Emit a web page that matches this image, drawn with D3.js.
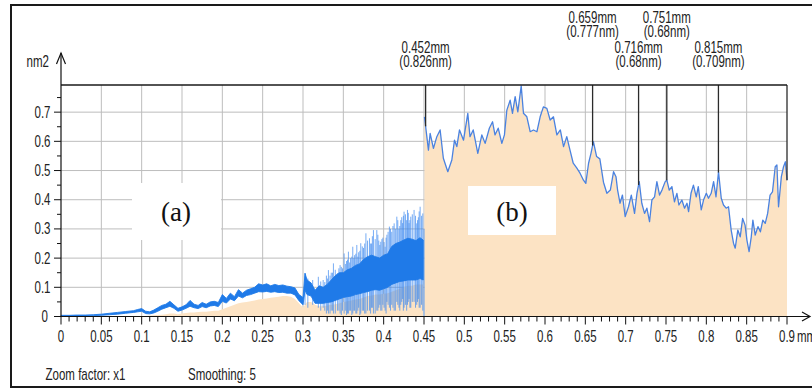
<!DOCTYPE html>
<html><head><meta charset="utf-8">
<script src="https://cdn.jsdelivr.net/npm/d3@7"></script>
<style>html,body{margin:0;padding:0;background:#fff;} svg{display:block}</style>
</head><body><svg id="chart" width="812" height="389"></svg>
<script>
// ---- Profile data (position in mm, power in nm2) ----
// Segment (a): noisy band, upper / lower edge of the trace and the filled level
const aMm   = [0.000,0.010,0.020,0.030,0.040,0.050,0.060,0.070,0.080,0.090,0.095,0.100,0.105,0.110,0.115,0.120,0.125,0.130,0.135,0.140,0.145,0.150,0.155,0.160,0.165,0.170,0.175,0.180,0.185,0.190,0.195,0.200,0.205,0.210,0.215,0.220,0.225,0.230,0.235,0.240,0.245,0.250,0.255,0.260,0.265,0.270,0.275,0.280,0.285,0.290,0.295,0.300,0.3025,0.305,0.310,0.315,0.320,0.325,0.330,0.335,0.340,0.345,0.350,0.355,0.360,0.365,0.370,0.375,0.380,0.385,0.390,0.395,0.400,0.405,0.410,0.415,0.420,0.425,0.430,0.435,0.440,0.445,0.449];
const aHigh = [0.004,0.004,0.005,0.005,0.006,0.008,0.011,0.014,0.017,0.020,0.024,0.027,0.018,0.016,0.022,0.030,0.038,0.042,0.052,0.040,0.028,0.033,0.040,0.055,0.042,0.038,0.048,0.042,0.050,0.052,0.048,0.075,0.062,0.080,0.068,0.092,0.080,0.090,0.095,0.100,0.112,0.108,0.112,0.105,0.110,0.106,0.108,0.104,0.102,0.098,0.075,0.065,0.148,0.125,0.115,0.090,0.105,0.100,0.110,0.125,0.140,0.150,0.150,0.160,0.165,0.175,0.180,0.195,0.205,0.210,0.205,0.200,0.210,0.215,0.240,0.250,0.255,0.262,0.268,0.265,0.260,0.270,0.262];
const aLow  = [0.001,0.001,0.002,0.002,0.003,0.004,0.006,0.008,0.011,0.014,0.016,0.018,0.010,0.009,0.012,0.018,0.025,0.030,0.035,0.028,0.018,0.022,0.028,0.035,0.030,0.027,0.034,0.030,0.036,0.038,0.034,0.052,0.046,0.060,0.054,0.070,0.064,0.072,0.075,0.080,0.085,0.084,0.086,0.083,0.085,0.082,0.083,0.080,0.080,0.074,0.054,0.040,0.090,0.075,0.070,0.045,0.045,0.045,0.048,0.050,0.055,0.060,0.065,0.068,0.070,0.075,0.078,0.082,0.085,0.090,0.092,0.090,0.095,0.100,0.110,0.115,0.120,0.122,0.125,0.125,0.125,0.130,0.125];
const aFill = [0,0,0,0,0,0,0,0,0,0,0,0.002,0.002,0.003,0.004,0.005,0.006,0.008,0.010,0.010,0.008,0.010,0.012,0.014,0.014,0.015,0.016,0.016,0.018,0.020,0.020,0.025,0.030,0.035,0.040,0.045,0.048,0.050,0.052,0.055,0.058,0.060,0.062,0.064,0.066,0.068,0.070,0.070,0.068,0.060,0.045,0.030,0.040,0.050,0.050,0.040,0.035,0.035,0.038,0.040,0.042,0.045,0.050,0.052,0.055,0.058,0.060,0.065,0.070,0.072,0.075,0.075,0.078,0.080,0.085,0.090,0.095,0.100,0.105,0.105,0.110,0.110,0.110];

// Individual spikes of the noisy part of segment (a)
const spikeMm   = [0.3025,0.3060,0.3120,0.3190,0.3220,0.3250,0.3270,0.3290,0.3305,0.3315,0.3335,0.3350,0.3365,0.3377,0.3400,0.3427,0.3445,0.3460,0.3475,0.3490,0.3510,0.3525,0.3540,0.3552,0.3563,0.3578,0.3590,0.3605,0.3617,0.3630,0.3640,0.3655,0.3667,0.3680,0.3690,0.3705,0.3716,0.3735,0.3750,0.3765,0.3780,0.3800,0.3824,0.3838,0.3850,0.3860,0.3873,0.3895,0.3915,0.3928,0.3940,0.3952,0.3964,0.3978,0.3990,0.4005,0.4018,0.4030,0.4040,0.4055,0.4071,0.4085,0.4100,0.4115,0.4130,0.4145,0.4163,0.4175,0.4190,0.4200,0.4212,0.4224,0.4235,0.4244,0.4253,0.4270,0.4285,0.4295,0.4305,0.4315,0.4325,0.4336,0.4355,0.4377,0.4395,0.4410,0.4420,0.4430,0.4440,0.4452,0.4470,0.4485,0.4500];
const spikeLow  = [0.04,0.03,0.04,0.03,0.02,0.03,0.02,0.01,0.02,0.01,0.01,0.02,0.02,0.01,0.01,0.02,0.02,0.01,0.005,0.02,0.01,0.02,0.005,0.01,0.01,0.02,0.02,0.005,0.01,0.02,0.02,0.01,0.01,0.02,0.03,0.005,0.01,0.02,0.02,0.01,0.01,0.02,0.02,0.01,0.03,0.03,0.01,0.01,0.02,0.02,0.03,0.04,0.02,0.02,0.04,0.03,0.02,0.01,0.05,0.04,0.03,0.02,0.04,0.03,0.02,0.02,0.05,0.04,0.03,0.02,0.04,0.05,0.06,0.02,0.03,0.04,0.02,0.04,0.05,0.06,0.03,0.03,0.05,0.05,0.03,0.04,0.05,0.06,0.03,0.03,0.04,0.02,0.00];
const spikeHigh = [0.148,0.130,0.125,0.136,0.120,0.125,0.118,0.140,0.130,0.159,0.140,0.150,0.150,0.182,0.160,0.148,0.165,0.176,0.170,0.165,0.216,0.180,0.190,0.195,0.222,0.185,0.200,0.205,0.239,0.200,0.210,0.215,0.245,0.205,0.220,0.225,0.251,0.240,0.235,0.250,0.285,0.260,0.268,0.250,0.250,0.275,0.296,0.265,0.296,0.280,0.260,0.245,0.256,0.265,0.270,0.255,0.239,0.270,0.280,0.290,0.308,0.300,0.290,0.310,0.319,0.300,0.342,0.330,0.300,0.310,0.330,0.340,0.320,0.345,0.359,0.350,0.330,0.365,0.355,0.320,0.330,0.342,0.350,0.365,0.345,0.319,0.330,0.340,0.360,0.376,0.345,0.353,0.300];

// Segment (b): smooth trace
const bMm  = [0.4506,0.4555,0.4576,0.4617,0.4659,0.4700,0.4740,0.4795,0.4845,0.4878,0.4907,0.4940,0.4990,0.5043,0.5070,0.5110,0.5167,0.5217,0.5258,0.5310,0.5350,0.5380,0.5420,0.5465,0.5497,0.5527,0.5568,0.5597,0.5630,0.5663,0.5705,0.5733,0.5775,0.5816,0.5857,0.5900,0.5940,0.5980,0.6023,0.6064,0.6105,0.6147,0.6190,0.6230,0.6270,0.6310,0.6350,0.6395,0.6436,0.6477,0.6506,0.6540,0.6570,0.6600,0.6640,0.6680,0.6725,0.6767,0.6810,0.6850,0.6880,0.6900,0.6930,0.6960,0.6994,0.7035,0.7070,0.7110,0.7140,0.7168,0.7200,0.7234,0.7263,0.7296,0.7325,0.7358,0.7387,0.7420,0.7450,0.7490,0.7511,0.7540,0.7573,0.7605,0.7635,0.7660,0.7697,0.7730,0.7760,0.7780,0.7810,0.7840,0.7875,0.7900,0.7937,0.7965,0.8000,0.8027,0.8060,0.8090,0.8120,0.8151,0.8185,0.8213,0.8246,0.8275,0.8308,0.8337,0.8358,0.8390,0.8420,0.8450,0.8480,0.8503,0.8530,0.8557,0.8577,0.8606,0.8640,0.8670,0.8700,0.8730,0.8760,0.8790,0.8820,0.8854,0.8875,0.8895,0.8930,0.8957,0.8980,0.9000];
const bNm2 = [0.684,0.570,0.627,0.576,0.616,0.639,0.542,0.496,0.536,0.604,0.582,0.639,0.604,0.696,0.616,0.639,0.559,0.622,0.593,0.645,0.667,0.622,0.645,0.593,0.622,0.707,0.741,0.696,0.753,0.701,0.790,0.696,0.684,0.633,0.639,0.633,0.684,0.718,0.713,0.673,0.684,0.622,0.639,0.582,0.616,0.570,0.525,0.508,0.490,0.467,0.456,0.525,0.559,0.599,0.548,0.540,0.460,0.422,0.433,0.496,0.479,0.433,0.388,0.416,0.342,0.376,0.416,0.353,0.422,0.462,0.388,0.353,0.371,0.325,0.399,0.410,0.462,0.416,0.433,0.462,0.467,0.433,0.445,0.393,0.422,0.382,0.399,0.371,0.388,0.359,0.422,0.450,0.410,0.445,0.365,0.399,0.422,0.405,0.422,0.462,0.410,0.496,0.405,0.382,0.371,0.376,0.296,0.251,0.234,0.296,0.273,0.336,0.313,0.262,0.222,0.273,0.330,0.279,0.308,0.290,0.330,0.319,0.353,0.416,0.427,0.513,0.519,0.376,0.479,0.513,0.530,0.467];

// Cursor markers
const markerMm    = [0.452, 0.659, 0.716, 0.751, 0.815];
const markerMmTxt = ["0.452mm", "0.659mm", "0.716mm", "0.751mm", "0.815mm"];
const markerNmTxt = ["(0.826nm)", "(0.777nm)", "(0.68nm)", "(0.68nm)", "(0.709nm)"];

// Axis ticks
const xTickVals = [0,0.05,0.1,0.15,0.2,0.25,0.3,0.35,0.4,0.45,0.5,0.55,0.6,0.65,0.7,0.75,0.8,0.85,0.9];
const xTickTxt  = ["0","0.05","0.1","0.15","0.2","0.25","0.3","0.35","0.4","0.45","0.5","0.55","0.6","0.65","0.7","0.75","0.8","0.85","0.9"];
const yTickVals = [0,0.1,0.2,0.3,0.4,0.5,0.6,0.7];
const yTickTxt  = ["0","0.1","0.2","0.3","0.4","0.5","0.6","0.7"];

// ---- Drawing ----
const svg = d3.select("#chart");
const X0 = 61, X1 = 787, Y0 = 316.5, YT = 85;
const x = d3.scaleLinear().domain([0, 0.9]).range([X0, X1]);
const y = d3.scaleLinear().domain([0, 0.793]).range([Y0, YT]);

const PEACH = "#fce3c4", BLUE = "#1f7ae8", LINE = "#4a82e0";
const SANS = "'Liberation Sans', Arial, sans-serif";

function label(g, px, py, s, anchor, size, family, sx, fill) {
  return g.append("text")
    .attr("transform", `translate(${px},${py}) scale(${sx},1)`)
    .attr("text-anchor", anchor)
    .attr("font-family", family)
    .attr("font-size", size)
    .attr("fill", fill || "#222")
    .text(s);
}

// white page with frame
svg.append("rect").attr("x", 0).attr("y", 0).attr("width", 812).attr("height", 389).attr("fill", "#fff");
svg.append("rect").attr("x", 11).attr("y", 5).attr("width", 830).attr("height", 382)
  .attr("fill", "none").attr("stroke", "#1a1a1a").attr("stroke-width", 2);

// grid
const grid = svg.append("g").attr("stroke", "#bdbdbd").attr("stroke-width", 1);
grid.selectAll("line.v").data(xTickVals.filter(v => v > 0 && v < 0.9)).join("line")
  .attr("x1", d => x(d)).attr("x2", d => x(d)).attr("y1", YT).attr("y2", Y0);
grid.selectAll("line.h").data(yTickVals.filter(v => v > 0)).join("line")
  .attr("x1", X0).attr("x2", X1).attr("y1", d => y(d)).attr("y2", d => y(d));

// filled level
const aRows = aMm.map((m, i) => ({m, hi: aHigh[i], lo: aLow[i], f: aFill[i]}));
const bRows = bMm.map((m, i) => ({m, v: bNm2[i]}));

svg.append("path").datum(aRows)
  .attr("fill", PEACH)
  .attr("d", d3.area().x(d => x(d.m)).y0(Y0).y1(d => y(d.f)));
svg.append("path").datum(bRows)
  .attr("fill", PEACH)
  .attr("d", d3.area().x(d => x(d.m)).y0(Y0).y1(d => y(d.v)));

// spikes
svg.append("g").selectAll("line").data(spikeMm.map((m, i) => ({m, lo: spikeLow[i], hi: spikeHigh[i]})))
  .join("line")
  .attr("x1", d => x(d.m)).attr("x2", d => x(d.m))
  .attr("y1", d => y(d.lo)).attr("y2", d => y(d.hi))
  .attr("stroke", "#3d89f0").attr("stroke-opacity", 0.7).attr("stroke-width", 1);

// noisy band
svg.append("path").datum(aRows)
  .attr("fill", BLUE).attr("stroke", BLUE).attr("stroke-width", 0.9).attr("stroke-linejoin", "round")
  .attr("d", d3.area().x(d => x(d.m)).y0(d => y(d.lo)).y1(d => y(d.hi)));

// smooth trace
svg.append("path").datum(bRows)
  .attr("fill", "none").attr("stroke", LINE).attr("stroke-width", 1.3).attr("stroke-linejoin", "round")
  .attr("d", d3.line().x(d => x(d.m)).y(d => y(d.v)));

// cursor lines down to the trace
const bis = d3.bisector(d => d.m).left;
function traceAt(m) {
  const i = Math.max(1, Math.min(bRows.length - 1, bis(bRows, m)));
  const a = bRows[i - 1], b = bRows[i];
  return a.v + (b.v - a.v) * (m - a.m) / (b.m - a.m);
}
const cur = svg.append("g").attr("stroke", "#2b2b2b").attr("stroke-width", 1.3);
markerMm.concat([0.9]).forEach(m => {
  cur.append("line").attr("x1", x(m)).attr("x2", x(m)).attr("y1", YT).attr("y2", y(traceAt(m)));
});
svg.append("line").attr("x1", X0).attr("x2", X1).attr("y1", YT).attr("y2", YT)
  .attr("stroke", "#1a1a1a").attr("stroke-width", 1.3);

// cursor labels, staggered on two rows, two lines each
const curTxt = svg.append("g");
markerMm.forEach((m, i) => {
  const top = i % 2 === 1;
  const t = curTxt.append("text")
    .attr("transform", `translate(${x(m)},${top ? 23 : 52.5}) scale(0.72,1)`)
    .attr("text-anchor", "middle").attr("font-family", SANS).attr("font-size", 16).attr("fill", "#222");
  t.append("tspan").attr("x", 0).attr("dy", 0).text(markerMmTxt[i]);
  t.append("tspan").attr("x", 0).attr("dy", 14).text(markerNmTxt[i]);
});

// axes
const ax = svg.append("g").attr("stroke", "#111").attr("stroke-width", 1.2).attr("fill", "none");
ax.append("line").attr("x1", X0).attr("x2", X0).attr("y1", Y0).attr("y2", 53);
ax.append("path").attr("d", `M${X0 - 4.5},64 L${X0},53 L${X0 + 4.5},64`);
ax.append("line").attr("x1", X0).attr("x2", 810).attr("y1", Y0).attr("y2", Y0);
ax.append("path").attr("d", `M802,312 L810,${Y0} L802,321`);

// x ticks: minor every 0.01, major every 0.05
const xMinor = d3.range(0, 91).map(k => k / 100);
ax.selectAll("line.xt").data(xMinor).join("line")
  .attr("x1", d => x(d)).attr("x2", d => x(d))
  .attr("y1", Y0).attr("y2", (d, i) => i % 5 === 0 ? Y0 + 8 : Y0 + 5)
  .attr("stroke-width", 1);
// y ticks: minor every 0.05, major every 0.1
const yMinor = d3.range(0, 16).map(k => k * 0.05);
ax.selectAll("line.yt").data(yMinor).join("line")
  .attr("x1", (d, i) => i % 2 === 0 ? X0 - 7 : X0 - 4).attr("x2", X0)
  .attr("y1", d => y(d)).attr("y2", d => y(d))
  .attr("stroke-width", 1);

const tl = svg.append("g");
xTickVals.forEach((v, i) => {
  label(tl, x(v), 341.5, xTickTxt[i], "middle", 16, SANS, 0.72);
});
label(tl, x(0.9) + 10, 341.5, "mm", "start", 16, SANS, 0.72);
yTickVals.forEach((v, i) => {
  label(tl, v === 0 ? 48 : 50.5, y(v) + 5.5, yTickTxt[i], "end", 16, SANS, 0.72);
});
label(tl, 26.5, 66.5, "nm2", "start", 16, SANS, 0.72);

// footer
label(tl, 45.5, 380, "Zoom factor: x1", "start", 16, SANS, 0.72);
label(tl, 188, 380, "Smoothing: 5", "start", 16, SANS, 0.72);

// region tags
const tags = svg.append("g");
tags.append("rect").attr("x", 132).attr("y", 183).attr("width", 89).attr("height", 57).attr("fill", "#fff");
tags.append("rect").attr("x", 468).attr("y", 186).attr("width", 88).attr("height", 49).attr("fill", "#fff");
label(tags, 176, 221, "(a)", "middle", 27, "'Liberation Serif', 'Times New Roman', serif", 1, "#111");
label(tags, 512, 221, "(b)", "middle", 27, "'Liberation Serif', 'Times New Roman', serif", 1, "#111");
</script></body></html>
